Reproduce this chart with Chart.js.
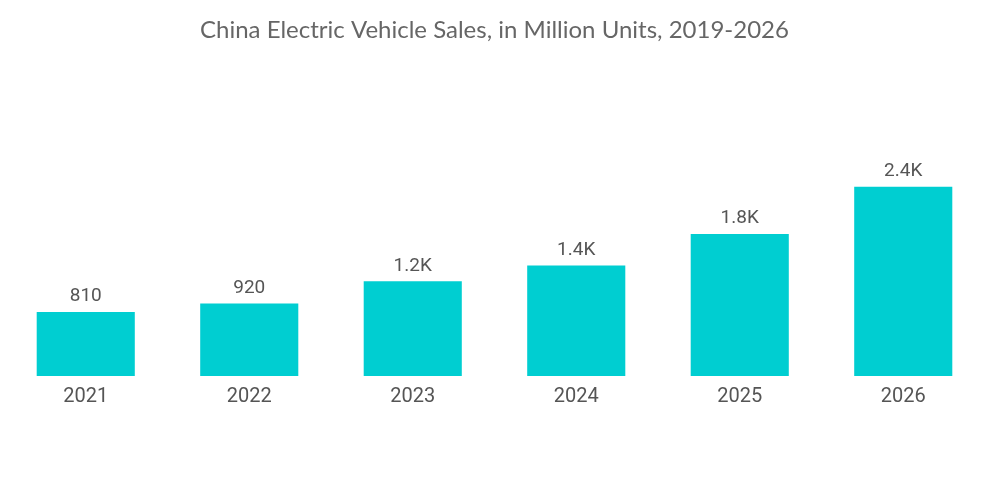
<!DOCTYPE html>
<html>
<head>
<meta charset="utf-8">
<script src="https://cdn.jsdelivr.net/npm/chart.js@4.4.0/dist/chart.umd.min.js"></script>
<style>
    html, body { margin: 0; padding: 0; background: #fff; }
    #wrap { width: 1000px; height: 504px; }
</style>
</head>
<body>
<div id="wrap"><canvas id="salesChart"></canvas></div>
<script>
const years = ['2021', '2022', '2023', '2024', '2025', '2026'];
const sales = [810, 920, 1200, 1400, 1800, 2400];

const barColor = '#00CED1';
const textColor = '#555555';

function formatValue(v) {
    if (v >= 1000) return (v / 1000).toFixed(1) + 'K';
    return String(v);
}

// Draw value labels above each bar
const valueLabels = {
    id: 'valueLabels',
    afterDatasetsDraw(chart) {
        const ctx = chart.ctx;
        const meta = chart.getDatasetMeta(0);
        ctx.save();
        ctx.font = '19px Roboto, "Open Sans", sans-serif';
        ctx.fillStyle = textColor;
        ctx.textAlign = 'center';
        ctx.textBaseline = 'bottom';
        meta.data.forEach((bar, i) => {
            ctx.fillText(formatValue(sales[i]), bar.x, bar.y - 6);
        });
        ctx.restore();
    }
};

new Chart(document.getElementById('salesChart').getContext('2d'), {
    type: 'bar',
    data: {
        labels: years,
        datasets: [{
            data: sales,
            backgroundColor: barColor,
            borderWidth: 0,
            categoryPercentage: 0.6,
            barPercentage: 1.0
        }]
    },
    options: {
        responsive: true,
        maintainAspectRatio: false,
        animation: false,
        layout: {
            padding: { left: 4, right: 15, top: 8, bottom: 94 }
        },
        scales: {
            x: {
                grid: { display: false },
                border: { display: false },
                ticks: {
                    color: textColor,
                    padding: 1,
                    font: { family: 'Roboto, "Open Sans", sans-serif', size: 20 }
                }
            },
            y: {
                display: false,
                min: 0,
                max: 4060
            }
        },
        plugins: {
            legend: { display: false },
            tooltip: { enabled: false },
            title: {
                display: true,
                text: 'China Electric Vehicle Sales, in Million Units, 2019-2026',
                color: '#666666',
                font: { family: 'Lato, "Open Sans", sans-serif', size: 24, weight: 'normal' },
                padding: { top: 8, bottom: 11 }
            }
        }
    },
    plugins: [valueLabels]
});
</script>
</body>
</html>
